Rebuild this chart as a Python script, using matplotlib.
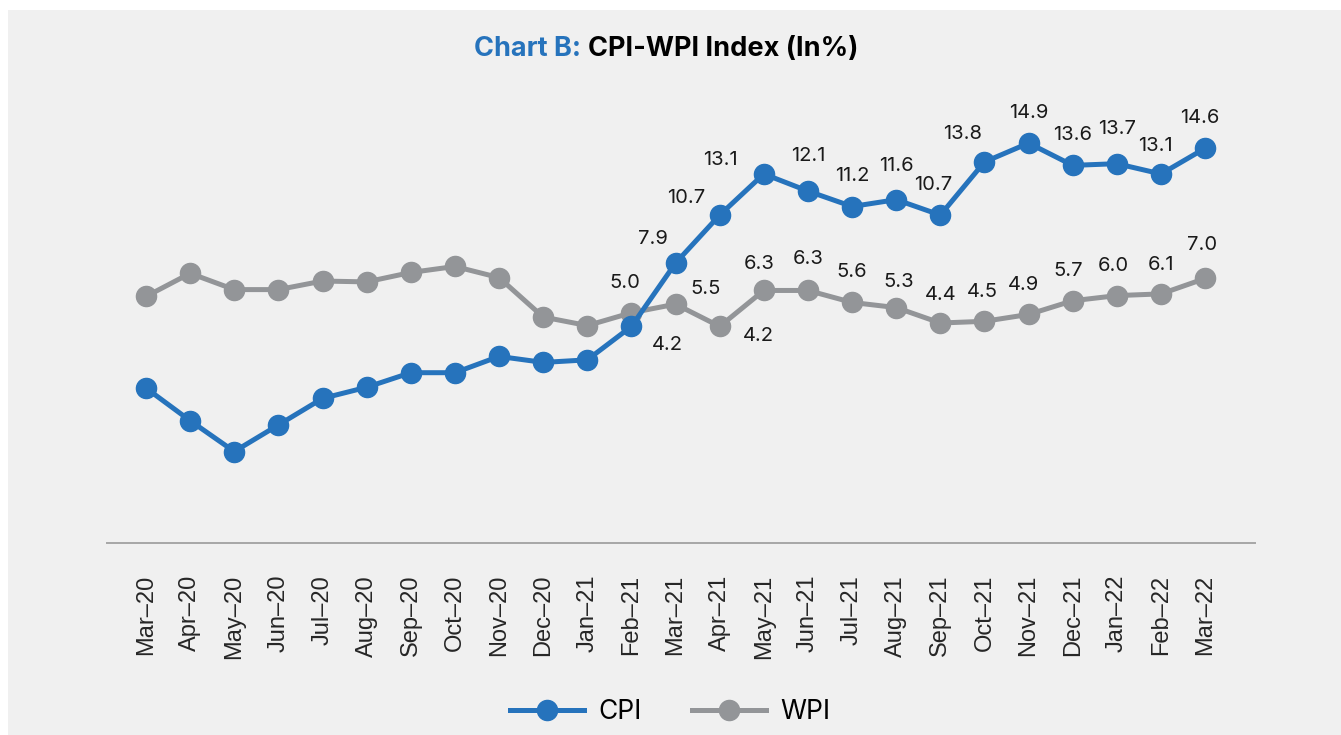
import matplotlib.pyplot as plt
from matplotlib.patches import Rectangle

# ---------------- data ----------------
months = ["Mar–20", "Apr–20", "May–20", "Jun–20", "Jul–20", "Aug–20", "Sep–20",
          "Oct–20", "Nov–20", "Dec–20", "Jan–21", "Feb–21", "Mar–21", "Apr–21",
          "May–21", "Jun–21", "Jul–21", "Aug–21", "Sep–21", "Oct–21", "Nov–21",
          "Dec–21", "Jan–22", "Feb–22", "Mar–22"]

cpi = [0.6, -1.3, -3.1, -1.55, 0.0, 0.65, 1.5, 1.5, 2.45, 2.1, 2.25,
       4.2, 7.9, 10.7, 13.1, 12.1, 11.2, 11.6, 10.7, 13.8, 14.9, 13.6, 13.7, 13.1, 14.6]
wpi = [5.95, 7.3, 6.35, 6.35, 6.85, 6.8, 7.35, 7.7, 7.05, 4.75, 4.25,
       5.0, 5.5, 4.2, 6.3, 6.3, 5.6, 5.3, 4.4, 4.5, 4.9, 5.7, 6.0, 6.1, 7.0]

# only the last 14 months carry data labels
first_label = 11

# label offsets in pixels (dx, dy) relative to the marker, as in the reference
cpi_offsets = [(36, -19), (-23, 24), (-34, 17), (-43, 14), (0, 35), (0, 31), (0, 34),
               (-7, 30), (-22, 28), (0, 30), (0, 30), (0, 35), (-6, 28), (-5, 30)]
wpi_offsets = [(-7, 30), (30, 15), (39, -10), (-5, 26), (0, 31), (0, 30), (2, 26),
               (0, 28), (-2, 29), (-5, 29), (-5, 30), (-4, 30), (0, 29), (-3, 33)]

blue = "#2673bc"
grey = "#939598"
bg = "#f0f0f0"

W, H = 1341, 735
fig = plt.figure(figsize=(W / 100, H / 100), dpi=100, facecolor="white")
fig.patches.append(Rectangle((8 / W, 0), 1, 1 - 10 / H, transform=fig.transFigure,
                             facecolor=bg, edgecolor="none", zorder=-10))

# axes box: x 107..1255 px, y 90..543 px
ax = fig.add_axes([107 / W, 1 - 543 / H, (1255 - 107) / W, (543 - 90) / H])
ax.set_facecolor("none")

x = list(range(len(months)))
ax.plot(x, wpi, color=grey, lw=3.6, marker="o", ms=14.5, label="WPI", zorder=2)
ax.plot(x, cpi, color=blue, lw=3.6, marker="o", ms=14.5, label="CPI", zorder=3)

ax.set_xlim(-0.884, 25.13)
ax.set_ylim(-8.44, 18.0)

px = 0.72  # points per pixel at 100 dpi
lab_font = dict(family=["Inter", "DejaVu Sans"], fontsize=14.5, color="#1a1a1a")
for k, (dx, dy) in enumerate(cpi_offsets):
    i = first_label + k
    ax.annotate(f"{cpi[i]:.1f}", (i, cpi[i]), xytext=(dx * px, dy * px),
                textcoords="offset points", ha="center", va="center", **lab_font)
for k, (dx, dy) in enumerate(wpi_offsets):
    i = first_label + k
    ax.annotate(f"{wpi[i]:.1f}", (i, wpi[i]), xytext=(dx * px, dy * px),
                textcoords="offset points", ha="center", va="center", **lab_font)

# axis styling
for s in ["left", "right", "top"]:
    ax.spines[s].set_visible(False)
ax.spines["bottom"].set_color("#a6a6a6")
ax.spines["bottom"].set_linewidth(1.4)
ax.set_yticks([])
ax.set_xticks(x)
ax.set_xticklabels(months, rotation=90, fontsize=17, family="Liberation Sans",
                   color="#262626")
ax.tick_params(axis="x", length=0, pad=23)

# title in two colours
ty = 1 - 49 / H
fig.text(581 / W, ty, "Chart B:", ha="right", va="center", fontsize=19.5,
         fontweight="bold", family="Inter", color=blue)
fig.text(588 / W, ty, "CPI-WPI Index (In%)", ha="left", va="center", fontsize=19.5,
         fontweight="bold", family="Inter", color="black")

# legend
handles, labels = ax.get_legend_handles_labels()
fig.legend(handles[::-1], labels[::-1], loc="center", ncol=2,
           bbox_to_anchor=(0.5, 1 - 712 / H), frameon=False,
           prop={"family": "Inter", "size": 19}, handlelength=2.8,
           handletextpad=0.55, columnspacing=1.9)

fig.savefig("out.png", dpi=100, facecolor=fig.get_facecolor())
